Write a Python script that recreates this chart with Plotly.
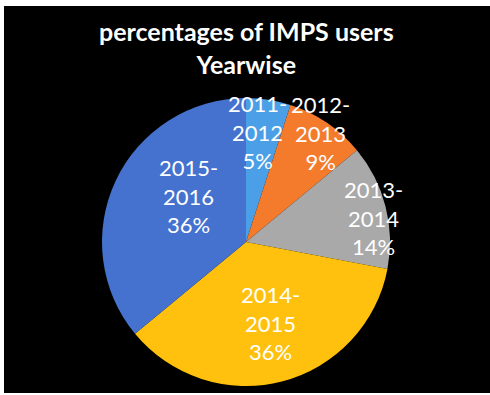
import math
import plotly.graph_objects as go

# Share of IMPS users by financial year
years = ["2011-2012", "2012-2013", "2013-2014", "2014-2015", "2015-2016"]
percent = [5, 9, 14, 36, 36]
slice_colors = ["#4A9FE6", "#F47A2C", "#A9A9A9", "#FFC10E", "#4472CE"]

W, H = 490, 395
CX, CY, R = 246, 242, 144          # pie centre and radius in pixels

# where each label sits: fraction of the radius and a small turn off the mid-angle
label_radius = [0.77, 0.92, 0.90, 0.59, 0.51]
label_turn = [-2.8, 0.1, 3.7, -2.1, 13.7]

FONT = "Lato"

fig = go.Figure()

# black card behind the chart, leaving a thin white edge top and left
fig.add_shape(type="rect", xref="paper", yref="paper",
              x0=4 / W, x1=1, y0=1 - 393 / H, y1=1 - 6 / H,
              fillcolor="black", line_width=0, layer="below")

fig.add_trace(go.Pie(
    labels=years,
    values=percent,
    sort=False,
    direction="clockwise",
    rotation=0,
    marker=dict(colors=slice_colors, line=dict(width=0)),
    textinfo="none",
    hoverinfo="label+percent",
    showlegend=False,
    domain=dict(x=[(CX - R) / W, (CX + R) / W],
                y=[1 - (CY + R) / H, 1 - (CY - R) / H]),
))

# data labels placed from each slice's mid-angle
total = sum(percent)
start = 0.0
for name, v, fr, turn in zip(years, percent, label_radius, label_turn):
    span = 360.0 * v / total
    mid = math.radians(start + span / 2 + turn)
    start += span
    px = CX + fr * R * math.sin(mid)
    py = CY - fr * R * math.cos(mid)
    a, b = name.split("-")
    fig.add_annotation(
        x=px / W, y=1 - py / H, xref="paper", yref="paper",
        xanchor="center", yanchor="middle", align="center",
        text=f"{a}-<br>{b}<br>{round(100 * v / total)}%",
        showarrow=False,
        font=dict(family=FONT, size=22, color="white"),
    )

fig.add_annotation(
    x=246 / W, y=1 - 48 / H, xref="paper", yref="paper",
    xanchor="center", yanchor="middle", align="center",
    text="<b>percentages of IMPS users</b><br><b>Yearwise</b>",
    showarrow=False,
    font=dict(family=FONT, size=25, color="white"),
)

fig.update_layout(
    width=W, height=H,
    margin=dict(l=0, r=0, t=0, b=0),
    paper_bgcolor="white",
)

fig.write_html("out.html")
